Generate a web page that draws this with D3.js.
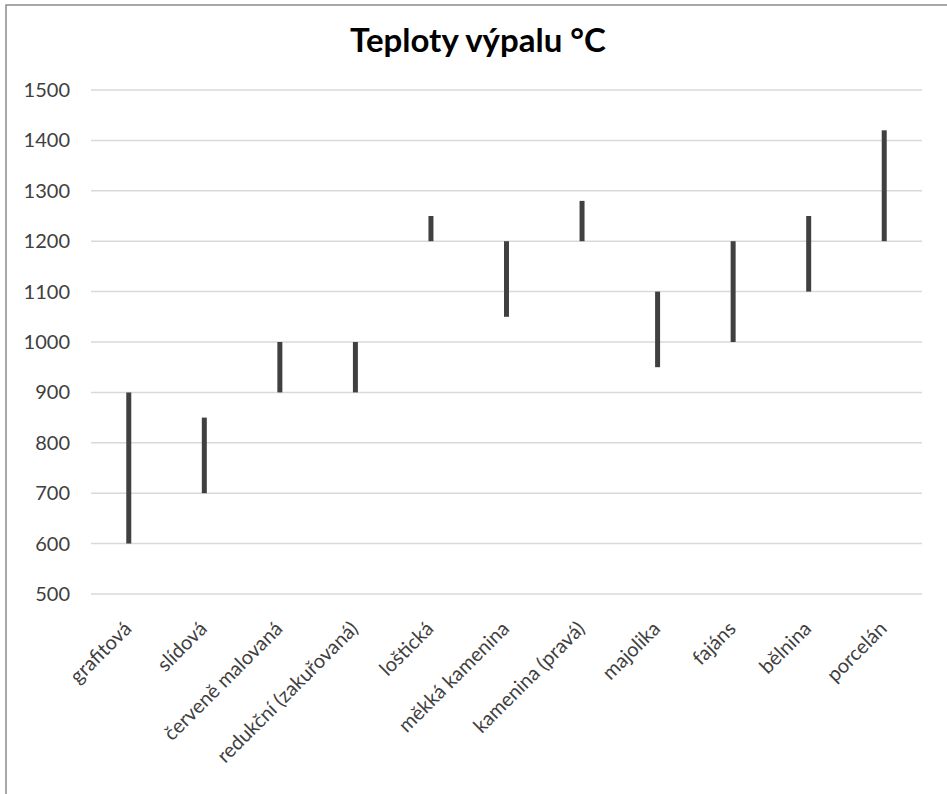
<!DOCTYPE html>
<html><head><meta charset="utf-8">
<script src="https://cdn.jsdelivr.net/npm/d3@7"></script>
<style>body{margin:0;background:#fff}svg{display:block}</style>
</head><body>
<script>
const categories = ["grafitová","slídová","červeně malovaná","redukční (zakuřovaná)","loštická","měkká kamenina","kamenina (pravá)","majolika","fajáns","bělnina","porcelán"];
const lowValues  = [600,700,900,900,1200,1050,1200,950,1000,1100,1200];
const highValues = [900,850,1000,1000,1250,1200,1280,1100,1200,1250,1420];
const yTicks = [500,600,700,800,900,1000,1100,1200,1300,1400,1500];
const title = "Teploty výpalu °C";

const W = 947, H = 794;
const svg = d3.select("body").append("svg").attr("width", W).attr("height", H);
const font = "Lato, 'Open Sans', sans-serif";

svg.append("rect").attr("x",6).attr("y",5).attr("width",W+20).attr("height",H+20)
  .attr("fill","#fff").attr("stroke","#8c8c8c").attr("stroke-width",1.5);

const x = d3.scaleBand().domain(categories).range([91, 922]);
const y = d3.scaleLinear().domain([500,1500]).range([594, 90]);

svg.append("text").attr("x", 478).attr("y", 52).attr("text-anchor","middle")
  .attr("font-family", font).attr("font-weight","bold").attr("font-size", 33)
  .attr("fill","#000").text(title);

const grid = svg.append("g");
grid.selectAll("line").data(yTicks).join("line")
  .attr("x1", 91).attr("x2", 922).attr("y1", d=>y(d)).attr("y2", d=>y(d))
  .attr("stroke","#d9d9d9").attr("stroke-width",1.5);

const yAxis = svg.append("g").attr("transform","translate(76,0)")
  .call(d3.axisLeft(y).tickValues(yTicks).tickSize(0).tickPadding(6).tickFormat(d3.format("d")));
yAxis.select(".domain").remove();
yAxis.selectAll("text").attr("font-family", font).attr("font-size", 20).attr("fill","#404040");

const xAxis = svg.append("g").attr("transform","translate(0,594)")
  .call(d3.axisBottom(x).tickSize(0).tickPadding(0));
xAxis.select(".domain").remove();
xAxis.selectAll("text")
  .attr("font-family", font).attr("font-size", 20).attr("fill","#404040")
  .attr("text-anchor","end")
  .attr("transform","translate(-1,31) rotate(-45)")
  .attr("dy","0.35em").attr("y",0);

svg.append("g").selectAll("line").data(categories).join("line")
  .attr("x1", d=>x(d)+x.bandwidth()/2).attr("x2", d=>x(d)+x.bandwidth()/2)
  .attr("y1", (d,i)=>y(lowValues[i])).attr("y2", (d,i)=>y(highValues[i]))
  .attr("stroke","#404040").attr("stroke-width",5);
</script>
</body></html>
